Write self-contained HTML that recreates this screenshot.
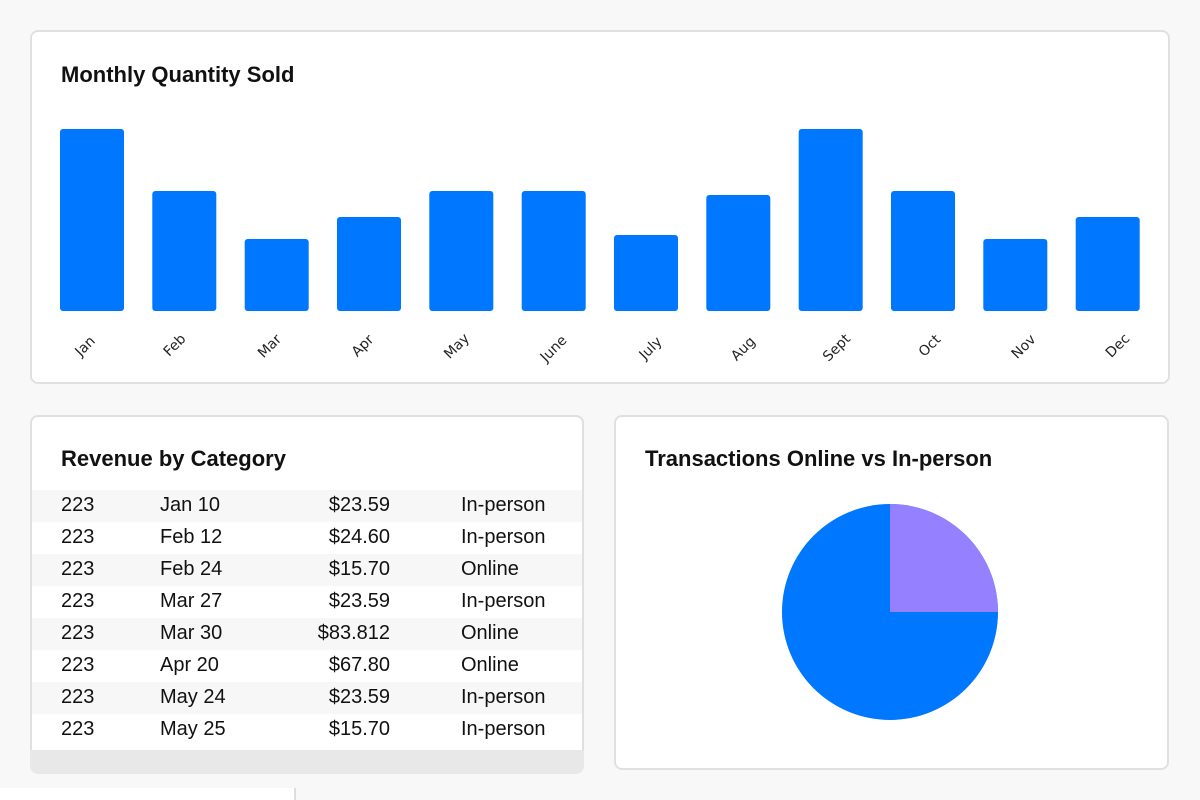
<!DOCTYPE html>
<html>
<head>
<meta charset="utf-8">
<style>
html,body{margin:0;padding:0;background:#f8f8f8;}
body{width:1200px;height:800px;overflow:hidden;}
svg{display:block;}
.t{font-family:"Liberation Sans",Arial,sans-serif;}
.lbl{font-family:"DejaVu Sans","Liberation Sans",sans-serif;font-size:14px;fill:#222;}
</style>
</head>
<body>
<svg width="1200" height="800" viewBox="0 0 1200 800" xmlns="http://www.w3.org/2000/svg">
  <rect x="0" y="0" width="1200" height="800" fill="#f8f8f8"/>

  <!-- Top card -->
  <rect x="31" y="31" width="1138" height="352" rx="7" ry="7" fill="#ffffff" stroke="#e0e0e0" stroke-width="2"/>
  <text x="61" y="82" class="t" font-size="22" font-weight="bold" fill="#111">Monthly Quantity Sold</text>

  <g fill="#0077ff">
    <rect x="60" y="129" width="64" height="182" rx="3"/>
    <rect x="152.3" y="191" width="64" height="120" rx="3"/>
    <rect x="244.7" y="239" width="64" height="72" rx="3"/>
    <rect x="337" y="217" width="64" height="94" rx="3"/>
    <rect x="429.3" y="191" width="64" height="120" rx="3"/>
    <rect x="521.7" y="191" width="64" height="120" rx="3"/>
    <rect x="614" y="235" width="64" height="76" rx="3"/>
    <rect x="706.3" y="195" width="64" height="116" rx="3"/>
    <rect x="798.7" y="129" width="64" height="182" rx="3"/>
    <rect x="891" y="191" width="64" height="120" rx="3"/>
    <rect x="983.3" y="239" width="64" height="72" rx="3"/>
    <rect x="1075.7" y="217" width="64" height="94" rx="3"/>
  </g>

  <g class="lbl" text-anchor="middle" dominant-baseline="central">
    <text transform="translate(85.5,346.5) rotate(-45)">Jan</text>
    <text transform="translate(175,345.5) rotate(-45)">Feb</text>
    <text transform="translate(270,346.5) rotate(-45)">Mar</text>
    <text transform="translate(363,346) rotate(-45)">Apr</text>
    <text transform="translate(457,346.5) rotate(-45)">May</text>
    <text transform="translate(554,349) rotate(-45)">June</text>
    <text transform="translate(651,348.5) rotate(-45)">July</text>
    <text transform="translate(743.5,349) rotate(-45)">Aug</text>
    <text transform="translate(837,348) rotate(-45)">Sept</text>
    <text transform="translate(930,346) rotate(-45)">Oct</text>
    <text transform="translate(1024,347) rotate(-45)">Nov</text>
    <text transform="translate(1118,346) rotate(-45)">Dec</text>
  </g>

  <!-- Table card -->
  <rect x="31" y="416" width="552" height="356" rx="7" ry="7" fill="#ffffff" stroke="#e0e0e0" stroke-width="2"/>
  <text x="61" y="466" class="t" font-size="22" font-weight="bold" fill="#111">Revenue by Category</text>

  <g fill="#f7f7f7">
    <rect x="32" y="490" width="550" height="32"/>
    <rect x="32" y="554" width="550" height="32"/>
    <rect x="32" y="618" width="550" height="32"/>
    <rect x="32" y="682" width="550" height="32"/>
  </g>

  <g class="t" font-size="20" fill="#111">
    <text x="61" y="511">223</text><text x="160" y="511">Jan 10</text><text x="390" y="511" text-anchor="end">$23.59</text><text x="461" y="511">In-person</text>
    <text x="61" y="543">223</text><text x="160" y="543">Feb 12</text><text x="390" y="543" text-anchor="end">$24.60</text><text x="461" y="543">In-person</text>
    <text x="61" y="575">223</text><text x="160" y="575">Feb 24</text><text x="390" y="575" text-anchor="end">$15.70</text><text x="461" y="575">Online</text>
    <text x="61" y="607">223</text><text x="160" y="607">Mar 27</text><text x="390" y="607" text-anchor="end">$23.59</text><text x="461" y="607">In-person</text>
    <text x="61" y="639">223</text><text x="160" y="639">Mar 30</text><text x="390" y="639" text-anchor="end">$83.812</text><text x="461" y="639">Online</text>
    <text x="61" y="671">223</text><text x="160" y="671">Apr 20</text><text x="390" y="671" text-anchor="end">$67.80</text><text x="461" y="671">Online</text>
    <text x="61" y="703">223</text><text x="160" y="703">May 24</text><text x="390" y="703" text-anchor="end">$23.59</text><text x="461" y="703">In-person</text>
    <text x="61" y="735">223</text><text x="160" y="735">May 25</text><text x="390" y="735" text-anchor="end">$15.70</text><text x="461" y="735">In-person</text>
  </g>

  <!-- textured bottom band -->
  <path d="M30,750 H584 V766 A8,8 0 0 1 576,774 H38 A8,8 0 0 1 30,766 Z" fill="#e8e8e8"/>

  <!-- Pie card -->
  <rect x="615" y="416" width="553" height="353" rx="7" ry="7" fill="#ffffff" stroke="#e0e0e0" stroke-width="2"/>
  <text x="645" y="466" class="t" font-size="22" font-weight="bold" fill="#111">Transactions Online vs In-person</text>

  <circle cx="890" cy="612" r="108" fill="#0077ff"/>
  <path d="M890,612 L890,504 A108,108 0 0 1 998,612 Z" fill="#9580ff"/>

  <!-- bottom strip -->
  <rect x="0" y="788" width="294" height="12" fill="#ffffff"/>
  <rect x="294" y="788" width="2" height="12" fill="#dddddd"/>
</svg>
</body>
</html>
